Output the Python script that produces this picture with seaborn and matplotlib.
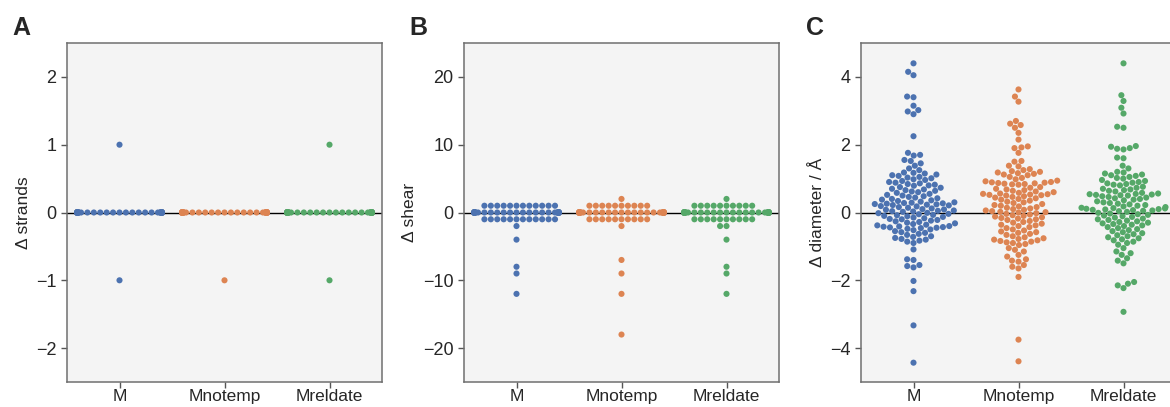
import warnings
warnings.filterwarnings("ignore")
import numpy as np
import pandas as pd
import matplotlib
matplotlib.use("Agg")
import matplotlib.pyplot as plt
import seaborn as sns

# ---------------- data ----------------
categories = ["M", "Mnotemp", "Mreldate"]

# Panel A: change in number of strands (value levels and counts per category)
strand_levels = [1, 0, -1]
strand_counts_M = [1, 135, 1]
strand_counts_Mnotemp = [0, 136, 1]
strand_counts_Mreldate = [1, 135, 1]

# Panel B: change in shear (value levels and counts per category)
shear_levels = [2, 1, 0, -1, -2, -4, -7, -8, -9, -12, -18]
shear_counts_M = [0, 12, 108, 12, 1, 1, 0, 1, 1, 1, 0]
shear_counts_Mnotemp = [1, 10, 112, 10, 1, 0, 1, 0, 1, 1, 1]
shear_counts_Mreldate = [1, 10, 110, 10, 2, 1, 0, 1, 1, 1, 0]

# Panel C: change in diameter (Å)
diam_M = [4.40, 4.15, 4.05, 3.42, 3.40, 3.15, 3.02, 2.98, 2.90, 2.25, 1.76, 1.70, 1.68,
          1.55, 1.52, 1.45, 1.38, 1.30, 1.25,
          1.18, 1.17, 1.15, 1.12, 1.10, 1.08, 1.05, 1.03, 1.01,
          0.98, 0.96, 0.93, 0.90, 0.88, 0.86, 0.84, 0.82, 0.80, 0.79,
          0.75, 0.73, 0.70, 0.68, 0.66, 0.64, 0.62, 0.60, 0.58,
          0.55, 0.52, 0.50, 0.48, 0.46, 0.44, 0.42, 0.40,
          0.38, 0.36, 0.34, 0.32, 0.30, 0.29, 0.28, 0.27, 0.26, 0.25, 0.24, 0.23, 0.22, 0.21,
          0.19, 0.18, 0.16, 0.14, 0.12, 0.10, 0.09, 0.08, 0.06, 0.05, 0.04, 0.03, 0.02,
          -0.01, -0.02, -0.04, -0.05, -0.07, -0.08, -0.10, -0.11, -0.13, -0.15, -0.17, -0.19,
          -0.20, -0.22, -0.24, -0.26, -0.28, -0.30, -0.32, -0.34, -0.36, -0.38,
          -0.40, -0.41, -0.42, -0.43, -0.44, -0.45, -0.46, -0.48, -0.50, -0.52, -0.55, -0.58,
          -0.60, -0.63, -0.66, -0.70, -0.72, -0.75, -0.78,
          -0.80, -0.83, -0.86, -0.90,
          -1.09, -1.38, -1.40, -1.55, -1.58, -1.62, -2.02, -2.32, -3.33, -4.43]

diam_Mnotemp = [3.63, 3.42, 3.27, 2.70, 2.62, 2.58, 2.50, 2.35, 2.15, 1.95, 1.92, 1.90, 1.76,
                1.52, 1.50, 1.38, 1.36,
                1.28, 1.25, 1.22, 1.20, 1.18, 1.16, 1.14, 1.12, 1.10,
                1.05, 1.02, 0.98,
                0.94, 0.92, 0.90, 0.89, 0.88, 0.87, 0.86, 0.85, 0.84, 0.83, 0.82,
                0.75, 0.73, 0.70, 0.68, 0.66, 0.64, 0.62, 0.60,
                0.58, 0.56, 0.55, 0.54, 0.53, 0.52, 0.51, 0.50, 0.48, 0.46, 0.44, 0.42, 0.40,
                0.38, 0.35, 0.32, 0.30, 0.28, 0.25, 0.22, 0.20, 0.18,
                0.16, 0.14, 0.12, 0.10, 0.08, 0.06, 0.04, 0.02, 0.01, 0.00,
                -0.02, -0.04, -0.06, -0.08, -0.10, -0.12, -0.14, -0.16, -0.18,
                -0.20, -0.22, -0.25, -0.28, -0.30, -0.33, -0.36, -0.38,
                -0.40, -0.43, -0.46, -0.50, -0.53, -0.56, -0.58,
                -0.60, -0.63, -0.66, -0.70, -0.73, -0.76, -0.78,
                -0.80, -0.82, -0.84, -0.86, -0.88, -0.90, -0.93, -0.96,
                -1.05, -1.10, -1.15, -1.25, -1.30, -1.38, -1.42, -1.45, -1.55, -1.60, -1.65,
                -1.90, -3.75, -4.39]

diam_Mreldate = [4.40, 3.46, 3.29, 3.09, 2.92, 2.53, 2.50, 1.96, 1.94, 1.90, 1.88, 1.86,
                 1.62, 1.60, 1.38, 1.30,
                 1.20, 1.18, 1.15, 1.12, 1.10, 1.08, 1.05, 1.02, 1.00,
                 0.96, 0.93, 0.90, 0.88, 0.86, 0.84, 0.82, 0.80,
                 0.76, 0.73, 0.70, 0.68, 0.66, 0.64, 0.62,
                 0.58, 0.56, 0.55, 0.54, 0.53, 0.52, 0.51, 0.50, 0.48, 0.46, 0.44, 0.42, 0.40,
                 0.38, 0.36, 0.33, 0.30, 0.28, 0.26, 0.24, 0.22, 0.20,
                 0.18, 0.16, 0.14, 0.13, 0.12, 0.11, 0.10, 0.09, 0.08, 0.07, 0.06, 0.05, 0.04, 0.02,
                 -0.01, -0.03, -0.05, -0.07, -0.09, -0.11, -0.13, -0.15, -0.18,
                 -0.20, -0.22, -0.24, -0.26, -0.28, -0.30, -0.32, -0.34, -0.36, -0.38,
                 -0.40, -0.43, -0.46, -0.49, -0.52, -0.55, -0.58,
                 -0.61, -0.64, -0.67, -0.70, -0.73, -0.76, -0.79,
                 -0.82, -0.86, -0.90, -0.95,
                 -1.05, -1.15, -1.20, -1.25, -1.35, -1.42, -1.50,
                 -2.05, -2.10, -2.15, -2.23, -2.93]

# ---------------- build long tables ----------------
def expand(levels, counts_by_cat):
    rows = []
    for cat, counts in zip(categories, counts_by_cat):
        for v in np.repeat(levels, counts):
            rows.append((cat, float(v)))
    return pd.DataFrame(rows, columns=["model", "value"])

df_a = expand(strand_levels, [strand_counts_M, strand_counts_Mnotemp, strand_counts_Mreldate])
df_b = expand(shear_levels, [shear_counts_M, shear_counts_Mnotemp, shear_counts_Mreldate])
df_c = pd.DataFrame(
    [(c, v) for c, vals in zip(categories, [diam_M, diam_Mnotemp, diam_Mreldate]) for v in vals],
    columns=["model", "value"])

# ---------------- style ----------------
sns.set_style("ticks")
plt.rcParams["font.family"] = ["Liberation Sans", "DejaVu Sans"]
plt.rcParams["axes.unicode_minus"] = True
palette = sns.color_palette("deep", 3)

fig = plt.figure(figsize=(11.7, 4.07), dpi=100)
W, H = 1170.0, 407.0
lefts = [67, 464, 861]
bottom, height, width = 25, 339, 315

specs = [
    (df_a, "\u0394 strands", (-2.5, 2.5), [-2, -1, 0, 1, 2], "A"),
    (df_b, "\u0394 shear", (-25, 25), [-20, -10, 0, 10, 20], "B"),
    (df_c, "\u0394 diameter / \u00c5", (-5, 5), [-4, -2, 0, 2, 4], "C"),
]

for left, (df, ylabel, ylim, yticks, letter) in zip(lefts, specs):
    ax = fig.add_axes([left / W, bottom / H, width / W, height / H])
    ax.set_facecolor("#f4f4f4")
    ax.axhline(0, color="black", lw=1.0, zorder=0.8)
    sns.swarmplot(data=df, x="model", y="value", hue="model", order=categories,
                  hue_order=categories, palette=palette, size=4.4, legend=False,
                  ax=ax, zorder=2)
    ax.set_ylim(*ylim)
    ax.set_yticks(yticks)
    ax.set_xlim(-0.5, 2.5)
    ax.set_xlabel("")
    ax.set_ylabel(ylabel, fontsize=12.5, labelpad=4)
    ax.tick_params(axis="both", labelsize=13, length=4, width=1, color="#555555",
                   direction="out")
    ax.tick_params(axis="x", pad=1.0, labelsize=12.5)
    for sp in ax.spines.values():
        sp.set_color("#6f6f6f")
        sp.set_linewidth(1.1)
    fig.text((left - 55) / W, 1 - 28 / H, letter, fontsize=18, fontweight="bold",
             ha="left", va="center")

fig.savefig("out.png", dpi=100)
